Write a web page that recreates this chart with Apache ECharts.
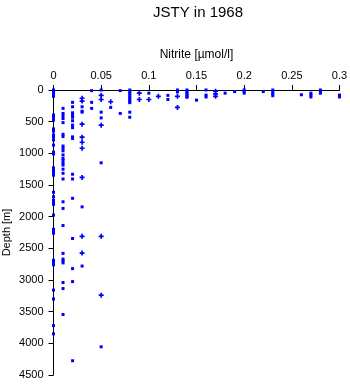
<!DOCTYPE html>
<html><head><meta charset="utf-8">
<script src="https://cdn.jsdelivr.net/npm/echarts@6/dist/echarts.min.js"></script>
<style>html,body{margin:0;padding:0;background:#fff}#c{width:350px;height:384px}</style>
</head><body><div id="c"></div>
<script>
const titleText = 'JSTY in 1968';
const xName = 'Nitrite [\u00b5mol/l]';
const yName = 'Depth [m]';
const xTicks = ['0','0.05','0.1','0.15','0.2','0.25','0.3'];
const yTicks = [0,500,1000,1500,2000,2500,3000,3500,4000,4500];

// [nitrite, depth] samples drawn as small squares
const squarePoints = [
 [0,0],[0,25],[0,50],[0,75],[0,100],[0,395],[0,430],[0,475],[0,615],[0,650],[0,710],[0,745],[0,790],[0,870],[0,980],[0,1010],
 [0,1230],[0,1260],[0,1300],[0,1345],[0,1615],[0,1685],[0,1740],[0,1770],[0,1805],[0,1975],[0,2200],[0,2230],[0,2260],
 [0,2690],[0,2720],[0,2760],[0,3160],[0,3300],[0,3720],[0,3850],
 [0.01,290],[0.01,370],[0.01,405],[0.01,450],[0.01,515],[0.01,700],[0.01,735],[0.01,885],[0.01,920],[0.01,960],[0.01,1025],
 [0.01,1080],[0.01,1110],[0.01,1150],[0.01,1185],[0.01,1250],[0.01,1315],[0.01,1405],[0.01,1765],[0.01,1870],[0.01,2140],
 [0.01,2580],[0.01,2670],[0.01,2700],[0.01,2730],[0.01,3040],[0.01,3135],[0.01,3545],
 [0.02,195],[0.02,265],[0.02,360],[0.02,395],[0.02,430],[0.02,485],[0.02,555],[0.02,595],[0.02,740],[0.02,765],
 [0.02,1330],[0.02,1405],[0.02,1710],[0.02,2345],[0.02,2820],[0.02,3025],[0.02,4275],
 [0.03,265],[0.03,335],[0.03,350],[0.03,1845],[0.03,2780],
 [0.04,10],[0.04,195],[0.04,290],
 [0.05,0],[0.05,350],[0.05,440],[0.05,1150],[0.05,4055],
 [0.06,275],[0.07,10],[0.07,370],
 [0.08,0],[0.08,30],[0.08,60],[0.08,90],[0.08,120],[0.08,150],[0.08,180],[0.08,200],[0.08,350],[0.08,430],
 [0.1,50],[0.12,85],[0.12,150],[0.13,0],[0.13,30],
 [0.14,0],[0.14,25],[0.14,50],[0.14,75],[0.14,100],[0.14,115],
 [0.15,160],[0.16,0],[0.16,80],[0.16,110],[0.18,50],[0.19,25],[0.2,0],[0.2,25],[0.2,50],
 [0.22,25],[0.23,0],[0.23,30],[0.23,60],[0.23,90],[0.26,75],[0.27,50],[0.27,80],[0.27,110],
 [0.28,0],[0.28,25],[0.28,50],[0.3,80],[0.3,110]
];
// [nitrite, depth] samples drawn as crosses
const crossPoints = [
 [0.03,130],[0.03,175],[0.03,540],[0.03,745],[0.03,825],[0.03,920],[0.03,1380],[0.03,2310],[0.03,2575],
 [0.05,85],[0.05,150],[0.05,555],[0.05,2310],[0.05,3240],
 [0.06,185],[0.09,50],[0.09,150],[0.1,150],[0.11,100],[0.13,100],[0.13,275],
 [0.17,20],[0.17,60],[0.17,100]
];

const FONT = 'Liberation Sans';
const chart = echarts.init(document.getElementById('c'), null, {renderer:'canvas'});
chart.setOption({
  animation:false,
  backgroundColor:'#fff',
  title:{text:titleText,left:193,textAlign:'center',top:0,textStyle:{fontFamily:FONT,fontSize:15,fontWeight:'normal',color:'#000'}},
  grid:{left:53.5,right:10.5,top:90,bottom:9,containLabel:false,outerBoundsMode:'none'},
  xAxis:{type:'value',position:'top',min:0,max:0.3,interval:0.05,
    name:xName,nameLocation:'middle',nameGap:29,nameMoveOverlap:false,
    nameTextStyle:{fontFamily:FONT,fontSize:12,color:'#000'},
    axisLine:{show:true,onZero:false,lineStyle:{color:'#000',width:1}},
    axisTick:{show:true,length:5,lineStyle:{color:'#000'}},
    axisLabel:{fontFamily:FONT,fontSize:11,color:'#000',margin:9,
      formatter:(v)=>{const i=Math.round(v/0.05);return xTicks[i]!==undefined?xTicks[i]:'';}},
    splitLine:{show:false}},
  yAxis:{type:'value',inverse:true,min:yTicks[0],max:yTicks[yTicks.length-1],interval:500,
    name:yName,nameLocation:'middle',nameGap:41,nameMoveOverlap:false,
    nameTextStyle:{fontFamily:FONT,fontSize:11,color:'#000'},
    axisLine:{show:true,onZero:false,lineStyle:{color:'#000',width:1}},
    axisTick:{show:true,length:5,lineStyle:{color:'#000'}},
    axisLabel:{fontFamily:FONT,fontSize:11,color:'#000',margin:10,formatter:(v)=>String(v)},
    splitLine:{show:false}},
  series:[
    {type:'scatter',data:squarePoints,symbol:'rect',symbolSize:3,itemStyle:{color:'#0000ff',opacity:1},silent:true},
    {type:'scatter',data:crossPoints,symbol:'path://M2,0H4V2H6V4H4V6H2V4H0V2H2Z',symbolSize:[5,5],itemStyle:{color:'#0000ff',opacity:1},silent:true}
  ]
});
</script></body></html>
